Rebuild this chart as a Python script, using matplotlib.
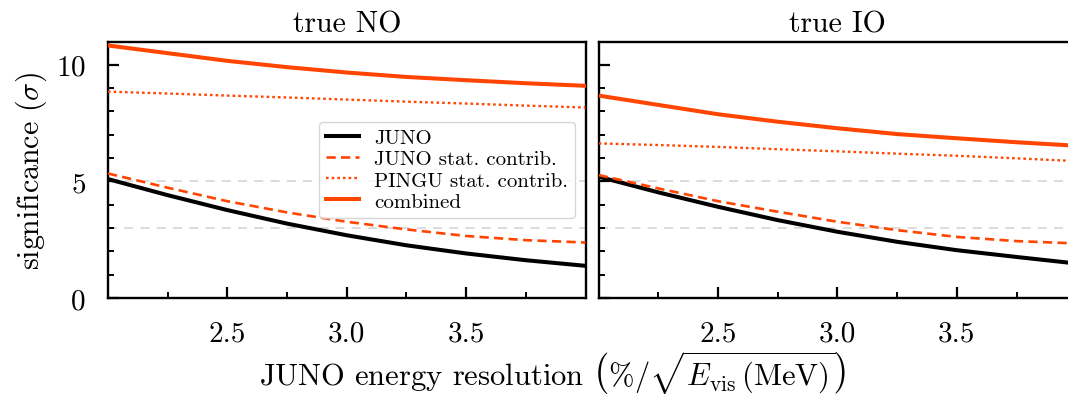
import matplotlib
matplotlib.use("Agg")
import matplotlib.pyplot as plt

plt.rcParams['font.family'] = 'cmr10'
plt.rcParams['mathtext.fontset'] = 'cm'
plt.rcParams['axes.formatter.use_mathtext'] = True

ORANGE = '#ff4500'

# JUNO energy resolution (%/sqrt(E))
resolution = [2.0, 2.25, 2.5, 2.75, 3.0, 3.25, 3.5, 3.75, 4.0]

# true NO
no_juno = [5.10, 4.41, 3.77, 3.19, 2.69, 2.26, 1.91, 1.62, 1.38]
no_juno_stat = [5.34, 4.73, 4.15, 3.67, 3.27, 2.94, 2.66, 2.48, 2.38]
no_pingu_stat = [8.85, 8.77, 8.68, 8.60, 8.51, 8.42, 8.34, 8.25, 8.17]
no_combined = [10.83, 10.50, 10.17, 9.90, 9.67, 9.48, 9.34, 9.21, 9.10]

# true IO
io_juno = [5.20, 4.53, 3.91, 3.34, 2.84, 2.41, 2.05, 1.76, 1.48]
io_juno_stat = [5.27, 4.70, 4.15, 3.70, 3.27, 2.91, 2.62, 2.44, 2.34]
io_pingu_stat = [6.63, 6.56, 6.48, 6.38, 6.29, 6.19, 6.10, 5.99, 5.87]
io_combined = [8.68, 8.28, 7.88, 7.56, 7.28, 7.03, 6.85, 6.68, 6.53]

sigma_levels = [3, 5]
panel_titles = ['true NO', 'true IO']

fig = plt.figure(figsize=(10.68, 4.10), dpi=100)
W, H = 1068, 410
ax_l = fig.add_axes([108 / W, 111 / H, 477.5 / W, 256.5 / H])
ax_r = fig.add_axes([598.7 / W, 111 / H, 477.5 / W, 256.5 / H])

panels = [
    (ax_l, no_juno, no_juno_stat, no_pingu_stat, no_combined),
    (ax_r, io_juno, io_juno_stat, io_pingu_stat, io_combined),
]

for i, (ax, juno, jstat, pstat, comb) in enumerate(panels):
    for lev in sigma_levels:
        ax.axhline(lev, color='#d9d9d9', lw=1.3, ls=(0, (5, 4)), zorder=1)
    ax.plot(resolution, juno, color='black', lw=2.9, label='JUNO', zorder=3)
    ax.plot(resolution, jstat, color=ORANGE, lw=1.9, ls=(0, (3.5, 2)),
            label='JUNO stat. contrib.', zorder=3)
    ax.plot(resolution, pstat, color=ORANGE, lw=1.7, ls=(0, (1.1, 1.3)),
            label='PINGU stat. contrib.', zorder=3)
    ax.plot(resolution, comb, color=ORANGE, lw=2.9, label='combined', zorder=3)

    ax.set_xlim(2.0, 4.0)
    ax.set_ylim(0, 11)
    ax.set_xticks([2.5, 3.0, 3.5])
    ax.set_xticklabels(['2.5', '3.0', '3.5'])
    ax.set_xticks([2.25, 2.75, 3.25, 3.75], minor=True)
    ax.set_yticks([0, 5, 10])
    ax.set_yticks([1, 2, 3, 4, 6, 7, 8, 9], minor=True)
    ax.tick_params(which='both', direction='in', top=False, right=False,
                   labelsize=21, pad=16)
    ax.tick_params(which='major', length=8, width=1.6)
    ax.tick_params(which='minor', length=4, width=1.4)
    for sp in ax.spines.values():
        sp.set_linewidth(1.7)
    ax.set_title(panel_titles[i], fontsize=21.5, pad=7)

ax_r.tick_params(labelleft=False)
ax_l.set_ylabel(r'significance ($\sigma$)', fontsize=21.5, labelpad=5)

ax_l.legend(loc='center right', fontsize=15, handlelength=1.6,
            handletextpad=0.7, labelspacing=0.12, borderpad=0.35,
            edgecolor='#cccccc', fancybox=True)

fig.text(552.5 / W, (H - 386) / H,
         r'JUNO energy resolution $\left(\%/\sqrt{E_\mathrm{vis}\,(\mathrm{MeV})}\right)$',
         fontsize=22, ha='center', va='baseline')

fig.savefig('out.png', dpi=100)
